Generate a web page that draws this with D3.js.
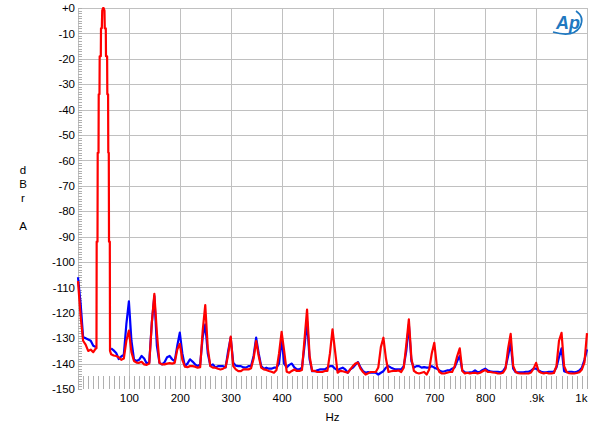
<!DOCTYPE html>
<html>
<head>
<meta charset="utf-8">
<script src="https://cdn.jsdelivr.net/npm/d3@7"></script>
<style>
  body { margin: 0; background: #fff; }
  svg { display: block; font-family: "Liberation Sans", Arial, sans-serif; }
  .axis text { font-size: 11.5px; fill: #000; }
  .grid line { stroke: #c0c0c0; stroke-width: 1; shape-rendering: crispEdges; }
  .minor line { stroke: #b0b0b0; stroke-width: 1; shape-rendering: crispEdges; }
  .trace { fill: none; stroke-width: 2.2; stroke-linejoin: round; }
</style>
</head>
<body>
<div id="chart"></div>
<script>
// FFT bins every 5 Hz, 0..1000 Hz (null = covered by the fundamental arrays)
const stepHz = 5;

const blueDb = [
  -106, -116, -129.5, -130, -130.5, -131, -133, -133.5, null, null,
  null, null, null, -134, -134.8, -135.8, -138.2, -137.2, -136.5, -124.5,
  -115.5, -131, -138.3, -139, -138.5, -137, -138, -140, -139.5, -124,
  -113.4, -133, -139.7, -140.3, -139.5, -137.5, -137, -138.3, -139, -133,
  -127.8, -136, -141, -140, -138.3, -139.2, -140.3, -141, -140.3, -129.5,
  -124.6, -136, -140.8, -140.3, -141.5, -141, -141, -141, -141.5, -135,
  -129.8, -139.7, -140.8, -141, -141, -141.5, -141.6, -141, -141, -137,
  -129.8, -136, -141, -142, -141.6, -142, -142, -141.6, -141.6, -140,
  -130, -140, -141.5, -140.5, -140, -141.5, -142.3, -142.3, -141.6, -133,
  -123.3, -138.3, -143, -143, -142.6, -142.3, -142.3, -142.3, -141.6, -141,
  -141, -142, -142.6, -142, -141.6, -142.3, -143.6, -142.3, -141.6, -140.5,
  -139.4, -141.5, -143, -143.6, -143.3, -143.6, -143.6, -143.6, -144.3, -143.6,
  -143, -141.6, -141, -141.6, -142, -142.3, -142.3, -142.3, -141, -135,
  -124.6, -139, -141.6, -141, -141, -141.6, -141.4, -141.6, -141.6, -141,
  -141.6, -142, -142.7, -143.2, -143, -142.7, -142.7, -142, -141.5, -139,
  -137, -142.7, -143.4, -143.6, -143.4, -143.4, -142.7, -143.4, -143.2, -142.5,
  -142, -142.7, -143, -143.2, -143.2, -143.2, -143.4, -143, -141.5, -137,
  -131.8, -142, -143.4, -143.4, -143.4, -143.4, -143.2, -143.2, -142.8, -142,
  -142, -142.7, -143.2, -143.4, -143.4, -143.2, -143.2, -143.2, -141.5, -137.5,
  -134, -143, -143.4, -143.2, -143.2, -143.4, -143.2, -142.7, -141.6, -138.5,
  -134.4
];

const redDb = [
  -107.5, -121, -131, -132.5, -135, -134.5, -135.5, -134, null, null,
  null, null, null, -136.3, -136.8, -137, -137.5, -138.5, -138, -131,
  -127, -135.5, -139, -139.6, -139.7, -139.3, -140.3, -140.5, -140, -124,
  -112.5, -128, -139.7, -140.3, -140.3, -140, -139.8, -140, -139.7, -134.5,
  -132.2, -138.5, -141.2, -141.4, -141, -141, -141.2, -141.6, -141.4, -127,
  -117, -134, -141, -141.6, -141.6, -142, -142.3, -142, -141.4, -136.5,
  -129.4, -141, -142.3, -143, -143, -142.3, -142.3, -142.3, -141.8, -138,
  -131.1, -137, -141.6, -142.3, -142.5, -142.9, -143.2, -143.6, -142.5, -136,
  -127.5, -135, -143.2, -143.6, -142.9, -142.3, -142.9, -142.9, -142.5, -130.5,
  -118.7, -137, -142.9, -142.9, -143.3, -143.3, -143.3, -142.9, -142.9, -136,
  -126.5, -135, -143.6, -142.9, -143, -143.3, -143.6, -142.3, -141, -140,
  -139.6, -142, -143.3, -144.3, -143.8, -143.3, -143.3, -143.3, -141.5, -133.5,
  -129.8, -138, -143.3, -143, -142.9, -142.9, -142.7, -143.3, -141.6, -132.5,
  -122.6, -138, -142.9, -143.6, -143.9, -143.6, -143.3, -144.3, -142.3, -136,
  -131.8, -141, -143.3, -143.9, -143.9, -143.6, -143.3, -143.3, -141, -137,
  -134, -142.9, -143.9, -143.6, -143.9, -143.7, -143.6, -143.9, -143.6, -143,
  -142.5, -143.3, -143.3, -143.5, -143.6, -143.9, -143.9, -143.6, -142, -134,
  -128.3, -141, -143.3, -143.8, -143.9, -143.9, -143.9, -143.9, -143.5, -142,
  -139.7, -143, -143.6, -143.9, -143.6, -143.9, -143.9, -143.7, -141, -131,
  -127.9, -141, -143.3, -143.8, -143.9, -143.9, -143.7, -143.4, -142.3, -139.5,
  -128
];

// 50 Hz fundamental, read at finer resolution (blue lies fully under red here)
const fundHz = [36.3, 36.7, 38.3, 38.7, 40.3, 40.7, 42.2, 42.6, 44.8, 45.2, 46.8, 47.6, 49.2,
                50.4, 52, 52.6, 54.6, 55, 57.2, 57.6, 59.1, 59.5, 60.5, 60.9, 62.5, 62.9];
const fundDb = [-134, -92, -92, -57, -57, -34, -34, -19, -19, -8, -8, -1, 0,
                0, -1, -8, -8, -19, -19, -34, -34, -57, -57, -92, -92, -135];

const yTicks = [0, -10, -20, -30, -40, -50, -60, -70, -80, -90, -100, -110, -120, -130, -140, -150];
const xTicks = [100, 200, 300, 400, 500, 600, 700, 800, 900, 1000];
const xTickLabels = ["100", "200", "300", "400", "500", "600", "700", "800", ".9k", "1k"];

const W = 600, H = 434;
const margin = {top: 8, right: 13, bottom: 45, left: 78};
const width = W - margin.left - margin.right;
const height = H - margin.top - margin.bottom;

const x = d3.scaleLinear().domain([0, 1000]).range([0, width]);
const y = d3.scaleLinear().domain([-150, 0]).range([height, 0]);

// withFund=false leaves a gap where the fundamental is (hidden under red anyway)
function buildSeries(grid, withFund) {
  const pts = [];
  grid.forEach((db, i) => { if (db !== null) pts.push({hz: i * stepHz, db: db}); });
  if (withFund) {
    fundHz.forEach((hz, i) => pts.push({hz: hz, db: fundDb[i]}));
  } else {
    pts.push({hz: 50, db: null});
  }
  return pts.sort((a, b) => a.hz - b.hz);
}

const svg = d3.select("#chart").append("svg")
  .attr("width", W)
  .attr("height", H)
  .append("g")
  .attr("transform", "translate(" + margin.left + "," + margin.top + ")");

// grid
const grid = svg.append("g").attr("class", "grid");
grid.selectAll(".h").data(yTicks.filter(d => d > -150))
  .enter().append("line")
  .attr("x1", 0).attr("x2", width)
  .attr("y1", d => Math.round(y(d)) + 0.5).attr("y2", d => Math.round(y(d)) + 0.5);
grid.selectAll(".v").data([0].concat(xTicks))
  .enter().append("line")
  .attr("y1", 0).attr("y2", height)
  .attr("x1", d => Math.round(x(d)) + 0.5).attr("x2", d => Math.round(x(d)) + 0.5);

// minor ticks: 1 dB on left edge, 10 Hz along the bottom
const minor = svg.append("g").attr("class", "minor");
minor.selectAll(".my").data(y.ticks(150))
  .enter().append("line")
  .attr("x1", 0).attr("x2", 4)
  .attr("y1", d => Math.round(y(d)) + 0.5).attr("y2", d => Math.round(y(d)) + 0.5);
minor.selectAll(".mx").data(x.ticks(100))
  .enter().append("line")
  .attr("y1", y(-145)).attr("y2", height)
  .attr("x1", d => Math.round(x(d)) + 0.5).attr("x2", d => Math.round(x(d)) + 0.5);

// axes (labels only)
const axisY = d3.axisLeft(y)
  .tickValues(yTicks)
  .tickSize(0)
  .tickPadding(3)
  .tickFormat(d => d === 0 ? "+0" : String(d));
svg.append("g").attr("class", "axis").call(axisY).select(".domain").remove();

const axisX = d3.axisBottom(x)
  .tickValues(xTicks)
  .tickSize(0)
  .tickPadding(5)
  .tickFormat((d, i) => xTickLabels[i]);
const gx = svg.append("g").attr("class", "axis")
  .attr("transform", "translate(0," + height + ")")
  .call(axisX);
gx.select(".domain").remove();
gx.selectAll(".tick text").filter(d => d === 1000).attr("text-anchor", "end").attr("x", 0);

// traces
const line = d3.line()
  .defined(d => d.db !== null)
  .x(d => x(d.hz))
  .y(d => y(d.db));

svg.append("path").attr("class", "trace")
  .attr("stroke", "#0000ff")
  .attr("d", line(buildSeries(blueDb, false)));
svg.append("path").attr("class", "trace")
  .attr("stroke", "#ff0000")
  .attr("d", line(buildSeries(redDb, true)));

// axis titles
const root = d3.select("#chart svg");
root.append("text")
  .attr("x", margin.left + width / 2)
  .attr("y", 421)
  .attr("text-anchor", "middle")
  .style("font-size", "11.5px")
  .text("Hz");

const yLabel = root.append("text")
  .attr("text-anchor", "middle")
  .style("font-size", "11.5px");
[["d", 174], ["B", 188], ["r", 202], ["A", 230]].forEach(function(p) {
  yLabel.append("tspan").attr("x", 23).attr("y", p[1]).text(p[0]);
});

// AP logo
const logo = root.append("g");
logo.append("text")
  .attr("x", 556)
  .attr("y", 29)
  .style("font-size", "18px")
  .style("font-style", "italic")
  .style("font-weight", "bold")
  .style("fill", "#1f78c0")
  .text("Ap");
logo.append("path")
  .attr("d", "M553,32 Q573,38 580,27 Q585,17 576,11")
  .attr("fill", "none")
  .attr("stroke", "#1f78c0")
  .attr("stroke-width", 1.6);
</script>
</body>
</html>
